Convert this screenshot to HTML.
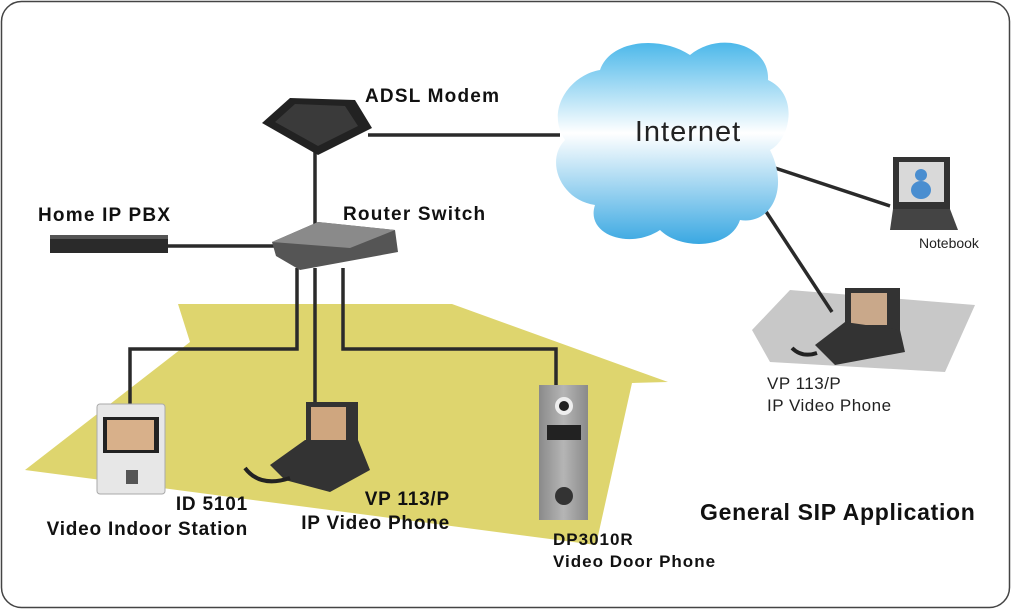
<!DOCTYPE html>
<html><head><style>body{margin:0;background:#fff}svg{display:block}</style></head><body>
<svg width="1012" height="610" viewBox="0 0 1012 610" xmlns="http://www.w3.org/2000/svg" font-family="Liberation Sans, sans-serif">
<defs>
<linearGradient id="cg" x1="0" y1="0" x2="0" y2="1"><stop offset="0" stop-color="#4cb8ea"/><stop offset="0.45" stop-color="#ffffff"/><stop offset="1" stop-color="#3aa8e2"/></linearGradient>
<linearGradient id="dp" x1="0" y1="0" x2="1" y2="0"><stop offset="0" stop-color="#8a8a8a"/><stop offset="0.5" stop-color="#b5b5b5"/><stop offset="1" stop-color="#8a8a8a"/></linearGradient>
</defs>
<rect x="1.5" y="1.5" width="1008" height="606" rx="20" fill="#fff" stroke="#444" stroke-width="1.5"/>
<polygon points="178,304 452,304 668,382 632,383 596,545 25,470 190,342" fill="#ded56e"/>
<polygon points="752,330 790,290 975,305 945,372 770,362" fill="#c8c8c8"/>
<g stroke="#2a2a2a" stroke-width="3.5" fill="none">
<line x1="368" y1="135" x2="560" y2="135"/>
<line x1="315" y1="150" x2="315" y2="232"/>
<line x1="168" y1="246" x2="275" y2="246"/>
<polyline points="297,268 297,349 130,349 130,406"/>
<line x1="315" y1="268" x2="315" y2="404"/>
<polyline points="343,268 343,349 556,349 556,385"/>
<line x1="775" y1="168" x2="890" y2="206"/>
<line x1="765" y1="210" x2="832" y2="312"/>
</g>
<g fill="url(#cg)">
<path d="M600,70 C610,40 660,35 690,55 C720,30 770,45 768,80 C800,95 790,140 770,150 C790,190 770,225 740,220 C730,250 680,250 660,230 C630,250 585,235 595,205 C560,200 545,160 565,140 C545,110 570,75 600,70 Z"/>
</g>
<text x="688" y="141" font-size="29" letter-spacing="1" text-anchor="middle" fill="#222">Internet</text>
<path d="M262,123 L290,98 L355,100 L372,128 L318,155 Z" fill="#222"/>
<path d="M275,122 L295,104 L345,106 L358,126 L318,146 Z" fill="#3a3a3a"/>
<polygon points="272,242 318,222 395,230 398,252 300,270 276,256" fill="#555"/>
<polygon points="272,242 318,222 395,230 350,248" fill="#8a8a8a"/>
<rect x="50" y="235" width="118" height="18" fill="#2a2a2a"/>
<rect x="50" y="235" width="118" height="4" fill="#555"/>
<rect x="893" y="157" width="57" height="52" fill="#333"/>
<rect x="899" y="162" width="45" height="40" fill="#d9d9d9"/>
<circle cx="921" cy="175" r="6" fill="#4a8ed0"/><ellipse cx="921" cy="190" rx="10" ry="9" fill="#4a8ed0"/>
<polygon points="893,209 950,209 958,230 890,230" fill="#444"/>
<rect x="845" y="288" width="55" height="44" fill="#333"/><rect x="851" y="293" width="36" height="32" fill="#c9a88a"/>
<polygon points="815,345 845,322 900,330 905,352 835,365" fill="#333"/>
<path d="M792,348 q10,10 25,5" stroke="#222" stroke-width="4" fill="none"/>
<rect x="97" y="404" width="68" height="90" rx="3" fill="#e7e7e7" stroke="#aaa"/>
<rect x="103" y="417" width="56" height="36" fill="#222"/><rect x="107" y="420" width="47" height="30" fill="#d8b08a"/>
<rect x="126" y="470" width="12" height="14" fill="#555"/>
<rect x="306" y="402" width="52" height="46" fill="#333"/><rect x="311" y="407" width="35" height="33" fill="#cfa67f"/>
<polygon points="270,465 305,440 358,440 370,470 330,492 285,480" fill="#333"/>
<path d="M245,468 q15,20 45,10" stroke="#222" stroke-width="4" fill="none"/>
<rect x="539" y="385" width="49" height="135" fill="url(#dp)"/>
<circle cx="564" cy="406" r="9" fill="#eee"/><circle cx="564" cy="406" r="5" fill="#222"/>
<rect x="547" y="425" width="34" height="15" fill="#222"/>
<circle cx="564" cy="496" r="9" fill="#333"/>
<g font-weight="bold" fill="#111">
<text x="365" y="102" font-size="19" letter-spacing="1.2">ADSL Modem</text>
<text x="343" y="220" font-size="19" letter-spacing="1.2">Router Switch</text>
<text x="38" y="221" font-size="19" letter-spacing="1.2">Home IP PBX</text>
<text x="248" y="510" font-size="19" letter-spacing="0.8" text-anchor="end">ID 5101</text>
<text x="248" y="535" font-size="19" letter-spacing="0.8" text-anchor="end">Video Indoor Station</text>
<text x="450" y="505" font-size="19" letter-spacing="0.8" text-anchor="end">VP 113/P</text>
<text x="450" y="529" font-size="19" letter-spacing="0.8" text-anchor="end">IP Video Phone</text>
<text x="553" y="545" font-size="17" letter-spacing="1">DP3010R</text>
<text x="553" y="567" font-size="17" letter-spacing="1">Video Door Phone</text>
<text x="700" y="520" font-size="23" letter-spacing="0.7">General SIP Application</text>
</g>
<text x="919" y="248" font-size="14" fill="#222">Notebook</text>
<text x="767" y="389" font-size="17" letter-spacing="0.5" fill="#222">VP 113/P</text>
<text x="767" y="411" font-size="17" letter-spacing="0.5" fill="#222">IP Video Phone</text>
</svg>
</body></html>
